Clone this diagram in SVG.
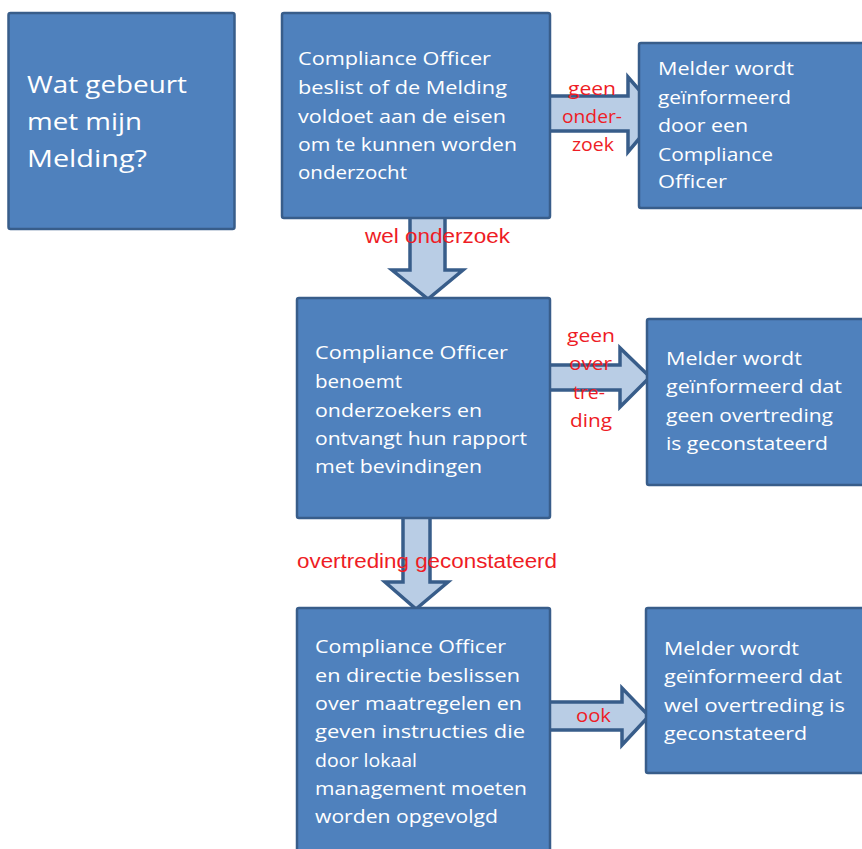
<svg xmlns="http://www.w3.org/2000/svg" width="862" height="849" viewBox="0 0 862 849">
<style>
.box{fill:#4F81BD;stroke:#385D8A;stroke-width:2.5}
.arr{fill:#B9CDE5;stroke:#385D8A;stroke-width:3.5;stroke-linejoin:miter}
.t{font-family:"Open Sans","Liberation Sans",sans-serif;font-size:18px;fill:#FFFFFF}
.title{font-family:"Open Sans","Liberation Sans",sans-serif;font-size:23px;fill:#FFFFFF}
.lbl{font-family:"Open Sans","Liberation Sans",sans-serif;font-size:18px;fill:#EE1C25}
.lbla{font-family:"Liberation Sans",Arial,sans-serif;font-size:20px;fill:#EE1C25}
</style>
<rect width="862" height="849" fill="#FFFFFF"/>
<g id="connectors">
<polygon class="arr" points="540,96 628,96 628,77 660,114 628,152 628,131 540,131"/>
<polygon class="arr" points="410,210 445,210 445,270 463,270 428,299 392,270 410,270"/>
<polygon class="arr" points="540,365 620,365 620,348 650,377 620,407 620,390 540,390"/>
<polygon class="arr" points="403,510 430,510 430,582 448,582 416,609 385,582 403,582"/>
<polygon class="arr" points="540,702 622,702 622,688 649,716 622,745 622,730 540,730"/>
</g>
<g id="n0">
<rect class="box" x="8.5" y="13" width="226" height="216" rx="2"/>
<text class="title" x="27" y="93" textLength="160" lengthAdjust="spacingAndGlyphs">Wat gebeurt</text>
<text class="title" x="27" y="130" textLength="115" lengthAdjust="spacingAndGlyphs">met mijn</text>
<text class="title" x="27" y="167" textLength="120" lengthAdjust="spacingAndGlyphs">Melding?</text>
</g>
<g id="n1">
<rect class="box" x="282" y="13" width="268" height="205" rx="2"/>
<text class="t" x="298" y="65" textLength="193" lengthAdjust="spacingAndGlyphs">Compliance Officer</text>
<text class="t" x="298" y="94" textLength="209" lengthAdjust="spacingAndGlyphs">beslist of de Melding</text>
<text class="t" x="298" y="123" textLength="208" lengthAdjust="spacingAndGlyphs">voldoet aan de eisen</text>
<text class="t" x="298" y="151" textLength="219" lengthAdjust="spacingAndGlyphs">om te kunnen worden</text>
<text class="t" x="298" y="179" textLength="109" lengthAdjust="spacingAndGlyphs">onderzocht</text>
</g>
<g id="n2">
<rect class="box" x="639" y="43" width="232" height="165" rx="2"/>
<text class="t" x="658" y="75" textLength="136" lengthAdjust="spacingAndGlyphs">Melder wordt</text>
<text class="t" x="658" y="104" textLength="133" lengthAdjust="spacingAndGlyphs">geïnformeerd</text>
<text class="t" x="658" y="132" textLength="90" lengthAdjust="spacingAndGlyphs">door een</text>
<text class="t" x="658" y="161" textLength="115" lengthAdjust="spacingAndGlyphs">Compliance</text>
<text class="t" x="658" y="188" textLength="69" lengthAdjust="spacingAndGlyphs">Officer</text>
</g>
<g id="n3">
<rect class="box" x="297" y="298" width="253" height="220" rx="2"/>
<text class="t" x="315" y="359" textLength="193" lengthAdjust="spacingAndGlyphs">Compliance Officer</text>
<text class="t" x="315" y="388" textLength="87" lengthAdjust="spacingAndGlyphs">benoemt</text>
<text class="t" x="315" y="417" textLength="167" lengthAdjust="spacingAndGlyphs">onderzoekers en</text>
<text class="t" x="315" y="445" textLength="212" lengthAdjust="spacingAndGlyphs">ontvangt hun rapport</text>
<text class="t" x="315" y="473" textLength="167" lengthAdjust="spacingAndGlyphs">met bevindingen</text>
</g>
<g id="n4">
<rect class="box" x="647" y="319" width="222" height="166" rx="2"/>
<text class="t" x="666" y="365" textLength="136" lengthAdjust="spacingAndGlyphs">Melder wordt</text>
<text class="t" x="666" y="393" textLength="176" lengthAdjust="spacingAndGlyphs">geïnformeerd dat</text>
<text class="t" x="666" y="422" textLength="167" lengthAdjust="spacingAndGlyphs">geen overtreding</text>
<text class="t" x="666" y="450" textLength="162" lengthAdjust="spacingAndGlyphs">is geconstateerd</text>
</g>
<g id="n5">
<rect class="box" x="297" y="608" width="253" height="252" rx="2"/>
<text class="t" x="315" y="653" textLength="191" lengthAdjust="spacingAndGlyphs">Compliance Officer</text>
<text class="t" x="315" y="682" textLength="205" lengthAdjust="spacingAndGlyphs">en directie beslissen</text>
<text class="t" x="315" y="710" textLength="207" lengthAdjust="spacingAndGlyphs">over maatregelen en</text>
<text class="t" x="315" y="738" textLength="210" lengthAdjust="spacingAndGlyphs">geven instructies die</text>
<text class="t" x="315" y="767" textLength="102" lengthAdjust="spacingAndGlyphs">door lokaal</text>
<text class="t" x="315" y="795" textLength="212" lengthAdjust="spacingAndGlyphs">management moeten</text>
<text class="t" x="315" y="823" textLength="183" lengthAdjust="spacingAndGlyphs">worden opgevolgd</text>
</g>
<g id="n6">
<rect class="box" x="646" y="608" width="222" height="165" rx="2"/>
<text class="t" x="664" y="655" textLength="135" lengthAdjust="spacingAndGlyphs">Melder wordt</text>
<text class="t" x="664" y="683" textLength="178" lengthAdjust="spacingAndGlyphs">geïnformeerd dat</text>
<text class="t" x="664" y="712" textLength="181" lengthAdjust="spacingAndGlyphs">wel overtreding is</text>
<text class="t" x="664" y="740" textLength="143" lengthAdjust="spacingAndGlyphs">geconstateerd</text>
</g>
<g id="labels">
<text class="lbl" x="568" y="95" textLength="48" lengthAdjust="spacingAndGlyphs">geen</text>
<text class="lbl" x="562" y="123" textLength="60" lengthAdjust="spacingAndGlyphs">onder-</text>
<text class="lbl" x="572" y="151" textLength="42" lengthAdjust="spacingAndGlyphs">zoek</text>
<text class="lbla" x="365" y="243" textLength="145" lengthAdjust="spacingAndGlyphs">wel onderzoek</text>
<text class="lbl" x="567" y="342" textLength="48" lengthAdjust="spacingAndGlyphs">geen</text>
<text class="lbl" x="569" y="370" textLength="43" lengthAdjust="spacingAndGlyphs">over</text>
<text class="lbl" x="573" y="399" textLength="32" lengthAdjust="spacingAndGlyphs">tre-</text>
<text class="lbl" x="570" y="427" textLength="42" lengthAdjust="spacingAndGlyphs">ding</text>
<text class="lbla" x="297" y="568" textLength="260" lengthAdjust="spacingAndGlyphs">overtreding geconstateerd</text>
<text class="lbl" x="576" y="722" textLength="35" lengthAdjust="spacingAndGlyphs">ook</text>
</g>
</svg>
